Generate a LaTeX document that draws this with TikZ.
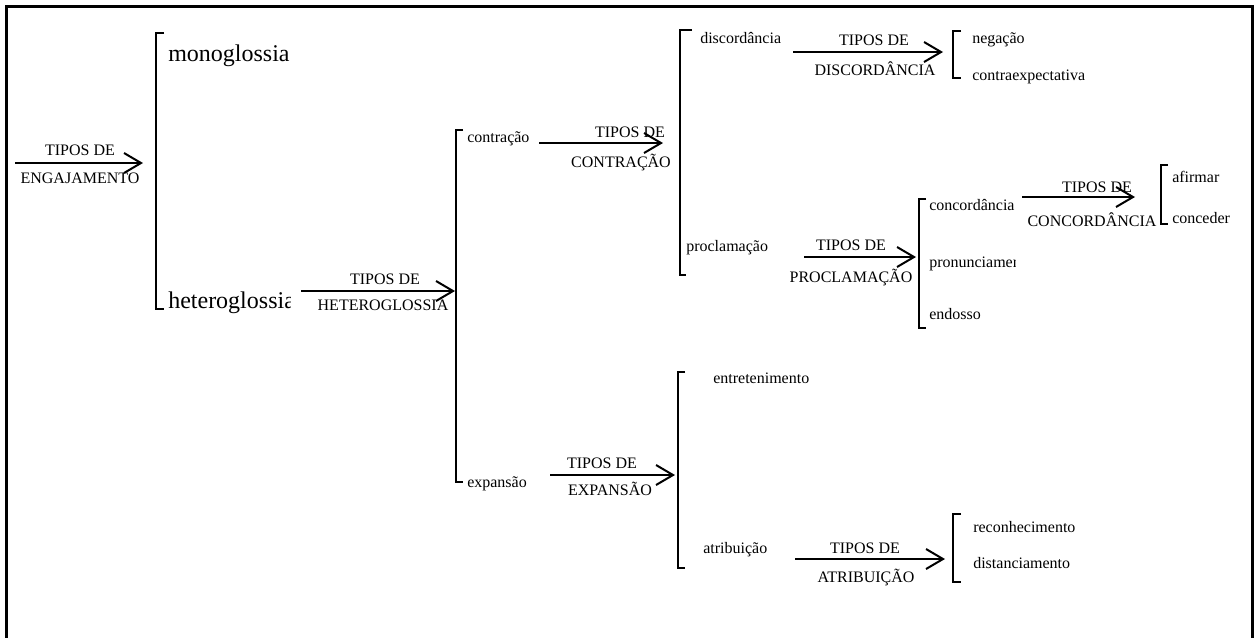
\documentclass[tikz,border=0pt]{standalone}
\usepackage{fontspec}
\setmainfont{Liberation Serif}
\usetikzlibrary{arrows.meta}
\begin{document}
\begin{tikzpicture}[x=0.75pt,y=-0.75pt,
  txt/.style={font=\fontsize{12}{14}\selectfont,inner sep=0pt,anchor=base west},
  big/.style={font=\fontsize{18}{21}\selectfont,inner sep=0pt,anchor=base west},
  lbl/.style={font=\fontsize{12}{14}\selectfont,inner sep=0pt,anchor=base},
  brk/.style={line width=1.5pt},
  arr/.style={line width=1.5pt,-{Straight Barb[length=12.75pt,width=15pt,line width=1.5pt]}},
  frame/.style={line width=2.25pt}]
\useasboundingbox (0,0) rectangle (1255,637);

% outer frame (open at the bottom edge)
\draw[frame] (6.5,660) -- (6.5,6.5) -- (1252,6.5) -- (1252,660);

% ---- coordinates of bracket ends ----
\coordinate (b1t) at (156,33);   \coordinate (b1b) at (156,309);
\coordinate (b2t) at (456,130);  \coordinate (b2b) at (456,482);
\coordinate (b3t) at (680,30);   \coordinate (b3b) at (680,275);
\coordinate (b4t) at (953,31);   \coordinate (b4b) at (953,78);
\coordinate (b5t) at (919,199);  \coordinate (b5b) at (919,328);
\coordinate (b6t) at (1161,165); \coordinate (b6b) at (1161,224);
\coordinate (b7t) at (678,372);  \coordinate (b7b) at (678,568);
\coordinate (b8t) at (953,514);  \coordinate (b8b) at (953,582);

% brackets
\draw[brk] (b1t) ++(8,0) -- (b1t) -- (b1b) -- ++(8,0);
\draw[brk] (b2t) ++(7,0) -- (b2t) -- (b2b) -- ++(7,0);
\draw[brk] (b3t) ++(12,0) -- (b3t) -- (b3b) -- ++(6,0);
\draw[brk] (b4t) ++(8,0) -- (b4t) -- (b4b) -- ++(8,0);
\draw[brk] (b5t) ++(7,0) -- (b5t) -- (b5b) -- ++(7,0);
\draw[brk] (b6t) ++(7,0) -- (b6t) -- (b6b) -- ++(7,0);
\draw[brk] (b7t) ++(7,0) -- (b7t) -- (b7b) -- ++(7,0);
\draw[brk] (b8t) ++(8,0) -- (b8t) -- (b8b) -- ++(8,0);

% ---- arrow ends ----
\coordinate (a1s) at (15,163);   \coordinate (a1e) at (143,163);
\coordinate (a2s) at (301,291);  \coordinate (a2e) at (455,291);
\coordinate (a3s) at (539,143);  \coordinate (a3e) at (663,143);
\coordinate (a4s) at (793,52);   \coordinate (a4e) at (943,52);
\coordinate (a5s) at (804,257);  \coordinate (a5e) at (916,257);
\coordinate (a6s) at (1022,197); \coordinate (a6e) at (1135,197);
\coordinate (a7s) at (550,475);  \coordinate (a7e) at (675,475);
\coordinate (a8s) at (795,559);  \coordinate (a8e) at (945,559);

\draw[arr] (a1s) -- (a1e);
\draw[arr] (a2s) -- (a2e);
\draw[arr] (a3s) -- (a3e);
\draw[arr] (a4s) -- (a4e);
\draw[arr] (a5s) -- (a5e);
\draw[arr] (a6s) -- (a6e);
\draw[arr] (a7s) -- (a7e);
\draw[arr] (a8s) -- (a8e);

% ---- arrow labels ----
\node[lbl] (l1a) at (80,155)   {TIPOS DE};
\node[lbl] (l1b) at (80,183)   {ENGAJAMENTO};
\node[lbl] (l2a) at (385,284)  {TIPOS DE};
\node[lbl] (l2b) at (383,310)  {HETEROGLOSSIA};
\node[lbl] (l3a) at (630,137)  {TIPOS DE};
\node[lbl] (l3b) at (621,167)  {CONTRAÇÃO};
\node[lbl] (l4a) at (874,45)   {TIPOS DE};
\node[lbl] (l4b) at (875,75)   {DISCORDÂNCIA};
\node[lbl] (l5a) at (851,250)  {TIPOS DE};
\node[lbl] (l5b) at (851,282)  {PROCLAMAÇÃO};
\node[lbl] (l6a) at (1097,192) {TIPOS DE};
\node[lbl] (l6b) at (1092,226) {CONCORDÂNCIA};
\node[lbl] (l7a) at (602,468)  {TIPOS DE};
\node[lbl] (l7b) at (610,495)  {EXPANSÃO};
\node[lbl] (l8a) at (865,553)  {TIPOS DE};
\node[lbl] (l8b) at (866,582)  {ATRIBUIÇÃO};

% ---- categories ----
\node[big] (mono) at (168,61) {monoglossia};
\begin{scope}
  \clip (160,280) rectangle (290,320);
  \node[big] (hetero) at (168,308) {heteroglossia};
\end{scope}

\node[txt] (contr) at (467,142) {contração};
\node[txt] (expan) at (467,487) {expansão};

\node[txt] (disc) at (700,43)  {discordância};
\node[txt] (procl) at (686,251) {proclamação};

\node[txt] (neg) at (972,43)  {negação};
\node[txt] (contra) at (972,80) {contraexpectativa};

\node[txt] (conc) at (929,210) {concordância};
\begin{scope}
  \clip (925,250) rectangle (1015,275);
  \node[txt] (pron) at (929,267) {pronunciamento};
\end{scope}
\node[txt] (endo) at (929,319) {endosso};

\node[txt] (afir) at (1172,182) {afirmar};
\node[txt] (conce) at (1172,223) {conceder};

\node[txt] (entre) at (713,383) {entretenimento};
\node[txt] (atrib) at (703,553) {atribuição};

\node[txt] (recon) at (973,532) {reconhecimento};
\node[txt] (dist) at (973,568) {distanciamento};
\end{tikzpicture}
\end{document}
